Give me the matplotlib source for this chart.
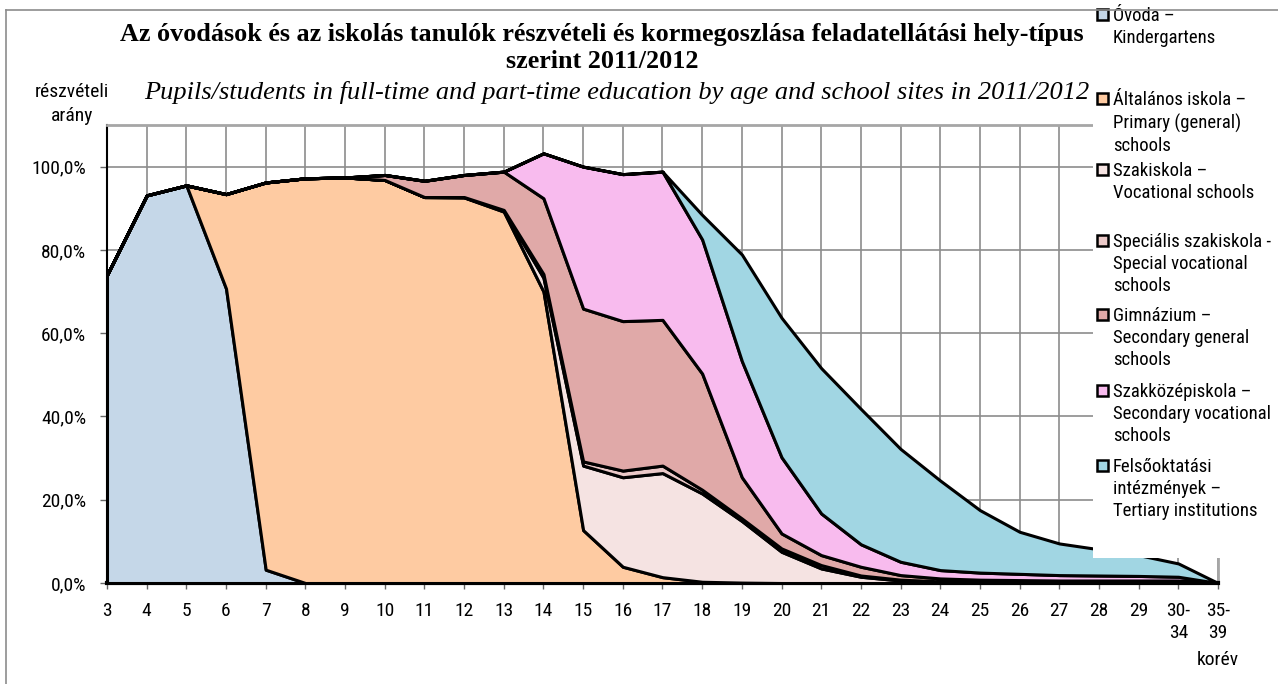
import matplotlib
matplotlib.use("Agg")
import matplotlib.pyplot as plt
from matplotlib.patches import Rectangle
from matplotlib.lines import Line2D
from matplotlib.ticker import FuncFormatter

# age groups (korév)
ages = [str(a) for a in range(3, 30)] + ["30-\n34", "35-\n39"]

# participation rate by school site type, % of age group
ovoda = [74.0, 93.1, 95.5, 70.7, 3.2, 0, 0, 0, 0, 0, 0, 0, 0, 0, 0,
         0, 0, 0, 0, 0, 0, 0, 0, 0, 0, 0, 0, 0, 0]
altalanos = [0, 0, 0, 22.7, 93.0, 97.2, 97.4, 96.8, 92.7, 92.6, 89.2, 70.0, 12.7, 3.9, 1.4,
             0.3, 0.1, 0, 0, 0, 0, 0, 0, 0, 0, 0, 0, 0, 0]
szakiskola = [0, 0, 0, 0, 0, 0, 0, 0, 0, 0.1, 0.3, 3.3, 15.5, 21.5, 25.0,
              21.2, 14.8, 7.5, 3.5, 1.5, 0.6, 0.3, 0.2, 0.2, 0.2, 0.2, 0.2, 0.2, 0]
specialis = [0, 0, 0, 0, 0, 0, 0, 0, 0, 0, 0.1, 0.9, 1.0, 1.6, 1.8,
             0.9, 0.6, 0.8, 0.8, 0.3, 0.2, 0.1, 0.1, 0.1, 0.1, 0.1, 0.1, 0.1, 0]
gimnazium = [0, 0, 0, 0, 0, 0, 0, 1.2, 3.9, 5.3, 9.2, 18.2, 36.7, 35.9, 35.0,
             27.9, 9.9, 3.6, 2.4, 2.1, 1.1, 0.7, 0.5, 0.4, 0.3, 0.3, 0.3, 0.3, 0]
szakkozep = [0, 0, 0, 0, 0, 0, 0, 0, 0, 0, 0, 10.8, 34.1, 35.3, 35.6,
             32.2, 27.9, 18.3, 10.0, 5.4, 3.2, 2.0, 1.7, 1.5, 1.3, 1.2, 1.1, 0.9, 0]
felso = [0, 0, 0, 0, 0, 0, 0, 0, 0, 0, 0, 0, 0, 0, 0,
         5.9, 25.6, 33.5, 34.9, 32.5, 27.1, 21.5, 15.0, 10.1, 7.6, 6.3, 5.0, 3.2, 0]

series = [ovoda, altalanos, szakiskola, specialis, gimnazium, szakkozep, felso]
labels = ["Óvoda –\nKindergartens",
          "Általános iskola –\nPrimary (general)\nschools",
          "Szakiskola –\nVocational schools",
          "Speciális szakiskola -\nSpecial vocational\nschools",
          "Gimnázium –\nSecondary general\nschools",
          "Szakközépiskola –\nSecondary vocational\nschools",
          "Felsőoktatási\nintézmények –\nTertiary institutions"]
colors = ["#C5D7E8", "#FECBA2", "#F5E3E2", "#EBC9C8", "#E0A9A8", "#F8BBEE", "#A1D6E3"]

W, H = 1278, 684
COND = ["Roboto Condensed", "Roboto", "DejaVu Sans"]
SERIF = ["Liberation Serif", "DejaVu Serif"]

fig = plt.figure(figsize=(W / 100, H / 100), dpi=100)
ax = fig.add_axes([107 / W, 1 - 583 / H, (1218 - 107) / W, (583 - 125) / H])

x = list(range(len(ages)))
ax.stackplot(x, *series, colors=colors, edgecolor="black", linewidth=2.2, zorder=3)

ax.set_xlim(0, len(ages) - 1)
ax.set_ylim(0, 110)
ax.set_yticks(range(0, 101, 20))
ax.yaxis.set_major_formatter(FuncFormatter(lambda v, _: f"{v:.1f}%".replace(".", ",")))
ax.set_xticks(x)
ax.set_xticklabels(ages, va="top", linespacing=1.3)
for lab in ax.get_xticklabels() + ax.get_yticklabels():
    lab.set_family(COND)
    lab.set_fontsize(14)
ax.tick_params(axis="y", length=5, width=1, color="#666666", pad=10)
ax.tick_params(axis="x", length=4.5, width=1, color="#666666", pad=9)

ax.grid(True, color="#8C8C8C", linewidth=1.2, zorder=0)
ax.set_axisbelow(True)
for s in ["top", "right"]:
    ax.spines[s].set_color("#A6A6A6")
    ax.spines[s].set_linewidth(2)
ax.spines["left"].set_color("black")
ax.spines["left"].set_linewidth(1.5)
ax.spines["bottom"].set_color("black")
ax.spines["bottom"].set_linewidth(3)

# titles
fig.text(602 / W, 1 - 35 / H, "Az óvodások és az iskolás tanulók részvételi és kormegoszlása feladatellátási hely-típus",
         ha="center", va="center", family=SERIF, fontweight="bold", fontsize=18.8)
fig.text(602 / W, 1 - 62 / H, "szerint 2011/2012", ha="center", va="center",
         family=SERIF, fontweight="bold", fontsize=18.8)
fig.text(617 / W, 1 - 92 / H,
         "Pupils/students in full-time and part-time education by age and school sites in 2011/2012",
         ha="center", va="center", family=SERIF, style="italic", fontsize=19)
fig.text(72 / W, 1 - 92 / H, "részvételi", ha="center", va="center", family=COND, fontsize=14)
fig.text(72 / W, 1 - 116 / H, "arány", ha="center", va="center", family=COND, fontsize=14)
fig.text(1218 / W, 1 - 660 / H, "korév", ha="center", va="center", family=COND, fontsize=14)

# legend box covering part of the plot
fig.add_artist(Rectangle((1093 / W, 1 - 558 / H), (W - 1093) / W, 548 / H,
                         transform=fig.transFigure, facecolor="white", edgecolor="none", zorder=5))
tops = [14, 98, 169, 240, 314, 390, 465]
for top, lab, c in zip(tops, labels, colors):
    fig.add_artist(Rectangle((1097 / W, 1 - (top + 6) / H), 11 / W, 11 / H,
                             transform=fig.transFigure, facecolor=c, edgecolor="black",
                             linewidth=1.8, zorder=6))
    fig.text(1113 / W, 1 - (top - 7) / H, lab, ha="left", va="top", family=COND,
             fontsize=13.5, linespacing=1.3, zorder=7)

# outer frame (top and left edges)
fig.add_artist(Line2D([6 / W, 1], [1 - 10 / H, 1 - 10 / H], transform=fig.transFigure,
                      color="#8C8C8C", linewidth=1.2, zorder=8))
fig.add_artist(Line2D([6 / W, 6 / W], [0, 1 - 10 / H], transform=fig.transFigure,
                      color="#8C8C8C", linewidth=1.2, zorder=8))

fig.savefig("out.png", dpi=100)
